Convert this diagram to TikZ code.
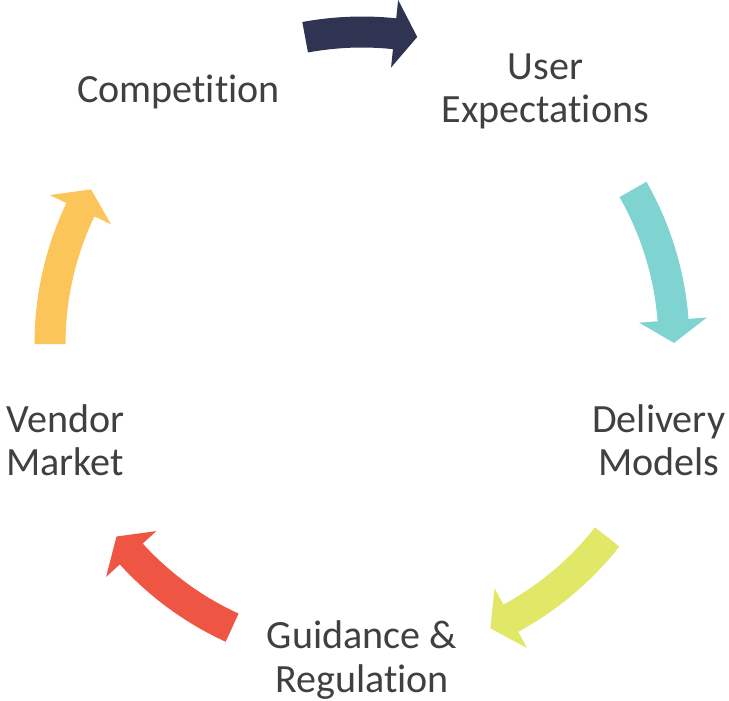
\documentclass[tikz,border=0pt]{standalone}
\usepackage{fontspec}
\setmainfont{Carlito}[Ligatures=NoCommon]
\usetikzlibrary{calc}

\definecolor{cycnavy}{HTML}{2E3451}
\definecolor{cycteal}{HTML}{7FD4D2}
\definecolor{cyclime}{HTML}{E1E868}
\definecolor{cycred}{HTML}{EF5543}
\definecolor{cycyellow}{HTML}{FBC55A}
\definecolor{cyctext}{HTML}{404040}

% curved block arrow on the cycle, running clockwise from #1 to #2 (degrees)
\newcommand{\cyclearrow}[3]{%
  \pgfmathsetmacro{\hb}{#2+4.2}%
  \fill[#3] ($(cyc)+(#1:3.275)$) arc[start angle=#1,end angle=\hb,radius=3.275]
    -- ($(cyc)+(\hb:3.46)$) -- ($(cyc)+(#2:3.12)$) -- ($(cyc)+(\hb:2.78)$)
    -- ($(cyc)+(\hb:2.965)$) arc[start angle=\hb,end angle=#1,radius=2.965] -- cycle;}

\tikzset{
  cyclabel/.style={align=center,text=cyctext,inner sep=0pt,
    font=\fontsize{11.4}{12.3}\selectfont},
}

\begin{document}
\begin{tikzpicture}
  \useasboundingbox (-3.62,-3.56) rectangle (3.67,3.44);
  \coordinate (cyc) at (0,0);

  \node[cyclabel] (comp)   at (126:3.12) {Competition};
  \node[cyclabel] (user)   at (54:3.12)  {User\\Expectations};
  \node[cyclabel] (deliv)  at (-18:3.12) {Delivery\\Models};
  \node[cyclabel] (guide)  at ($(cyc)+(0,-3.16)$) {Guidance \&\\Regulation};
  \node[cyclabel] (vendor) at (-162:3.12) {Vendor\\Market};

  \cyclearrow{100.5}{79.8}{cycnavy}
  \cyclearrow{29.7}{0.2}{cycteal}
  \cyclearrow{-38.2}{-65.7}{cyclime}
  \cyclearrow{-114.6}{-141.9}{cycred}
  \cyclearrow{180}{150.3}{cycyellow}
\end{tikzpicture}
\end{document}
